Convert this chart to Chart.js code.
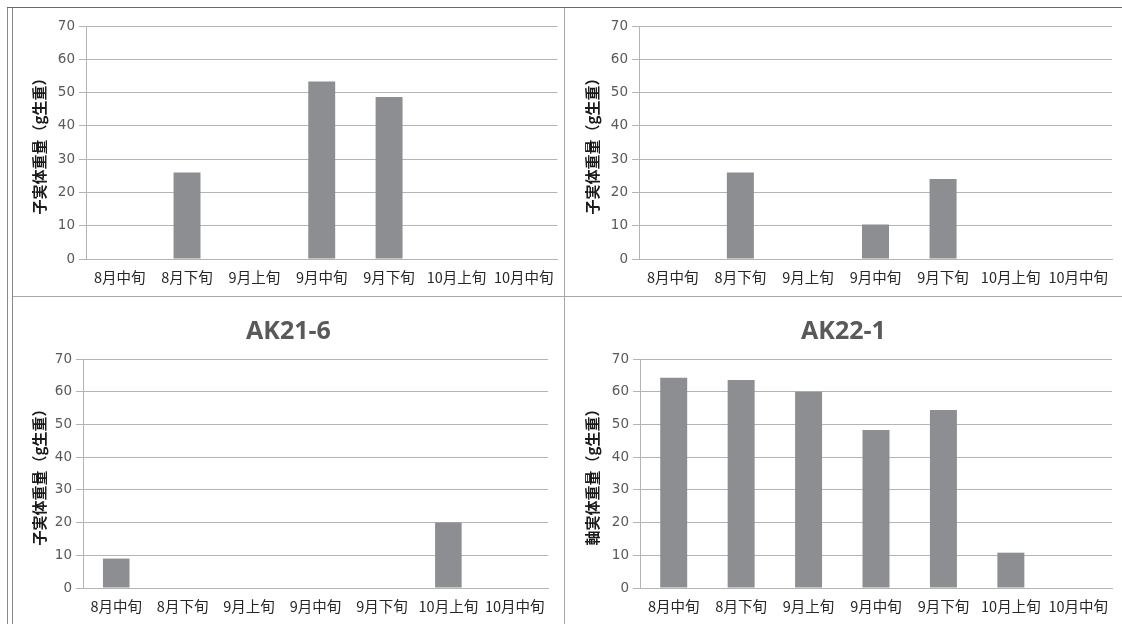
<!DOCTYPE html>
<html>
<head>
<meta charset="utf-8">
<script src="https://cdn.jsdelivr.net/npm/chart.js@4/dist/chart.umd.min.js"></script>
<style>
html,body{margin:0;padding:0;background:#fff;width:1122px;height:624px;overflow:hidden;}
.panel{position:absolute;}
.line{position:absolute;background:#9a9a9a;}
</style>
</head>
<body>
<div class="line" style="left:7px;top:7px;width:1px;height:617px;background:#8a8a8a"></div>
<div class="line" style="left:12px;top:8px;width:1px;height:616px;background:#8a8a8a"></div>
<div class="line" style="left:7px;top:7px;width:1115px;height:1px;background:#6a6a6a"></div>
<div class="line" style="left:564px;top:8px;width:1px;height:616px;background:#a8a8a8"></div>
<div class="line" style="left:13px;top:296px;width:1109px;height:1px;background:#a8a8a8"></div>

<div class="panel" style="left:13px;top:9px;width:551px;height:287px"><canvas id="c1"></canvas></div>
<div class="panel" style="left:565px;top:9px;width:557px;height:287px"><canvas id="c2"></canvas></div>
<div class="panel" style="left:13px;top:297px;width:551px;height:327px"><canvas id="c3"></canvas></div>
<div class="panel" style="left:565px;top:297px;width:557px;height:327px"><canvas id="c4"></canvas></div>

<script>
const categories = ['8月中旬','8月下旬','9月上旬','9月中旬','9月下旬','10月上旬','10月中旬'];
const valuesTopLeft = [0, 26, 0, 53.3, 48.7, 0, 0];
const valuesTopRight = [0, 26, 0, 10.4, 24, 0, 0];
const valuesAK21_6 = [9, 0, 0, 0, 0, 20, 0];
const valuesAK22_1 = [64.3, 63.6, 60, 48.3, 54.4, 10.8, 0];
const titleAK21_6 = 'AK21-6';
const titleAK22_1 = 'AK22-1';
const yTitleMain = '子実体重量（g生重）';
const yTitleAK22_1 = '軸実体重量（g生重）';
const yMin = 0, yMax = 70, yStep = 10;

const FONT = '"Noto Sans CJK JP", "DejaVu Sans", sans-serif';
const BAR = '#8d8e92';
const GRID = '#b4b4b4';

// center the title over the full panel width (not shrunk by layout padding)
const fullWidthTitle = {
  id: 'fullWidthTitle',
  afterLayout(chart) {
    const tb = chart.titleBlock;
    if (tb) { tb.left = 0; tb.right = chart.width; tb.width = chart.width; }
  }
};

function makeChart(id, values, title, yTitle, cfg) {
  const ctx = document.getElementById(id);
  return new Chart(ctx, {
    type: 'bar',
    data: {
      labels: categories,
      datasets: [{ data: values, backgroundColor: BAR, borderWidth: 0,
        barPercentage: 0.4, categoryPercentage: 1.0 }]
    },
    plugins: [fullWidthTitle],
    options: {
      responsive: true,
      maintainAspectRatio: false,
      animation: false,
      events: [],
      layout: { padding: { left: 0, right: cfg.right, top: cfg.top, bottom: 0 } },
      plugins: {
        legend: { display: false },
        tooltip: { enabled: false },
        title: title ? {
          display: true, text: title, color: '#595959',
          font: { family: '"Open Sans", "DejaVu Sans", sans-serif', size: 25, weight: 'bold' },
          padding: { top: cfg.titleTop, bottom: cfg.titleBottom }
        } : { display: false }
      },
      scales: {
        x: {
          grid: { display: false, drawTicks: false },
          border: { display: true, color: GRID, width: 1 },
          ticks: { color: '#262626', font: { family: FONT, size: 14.5 }, padding: 10, maxRotation: 0, autoSkip: false },
          afterFit: s => { s.height = cfg.xh; }
        },
        y: {
          min: yMin, max: yMax,
          ticks: { stepSize: yStep, color: '#595959', font: { family: '"DejaVu Sans", sans-serif', size: 13.5 }, padding: 4 },
          grid: { color: GRID, lineWidth: 1, drawTicks: true, tickLength: 7, tickColor: GRID },
          border: { display: true, color: GRID, width: 1 },
          title: { display: true, text: yTitle, color: '#1a1a1a',
            font: { family: FONT, size: 15, weight: 'bold' }, padding: { top: cfg.yTitlePad, bottom: 0 } },
          afterFit: s => { s.width = cfg.yw; }
        }
      }
    }
  });
}

makeChart('c1', valuesTopLeft, null, yTitleMain, { right: 6, top: 17, xh: 37, yw: 73, yTitlePad: 17 });
makeChart('c2', valuesTopRight, null, yTitleMain, { right: 10, top: 17, xh: 37, yw: 74, yTitlePad: 18 });
makeChart('c3', valuesAK21_6, titleAK21_6, yTitleMain, { right: 16, top: 0, xh: 36, yw: 70, yTitlePad: 17, titleTop: 20, titleBottom: 12 });
makeChart('c4', valuesAK22_1, titleAK22_1, yTitleAK22_1, { right: 10, top: 0, xh: 36, yw: 75, yTitlePad: 18, titleTop: 20, titleBottom: 12 });
</script>
</body>
</html>
